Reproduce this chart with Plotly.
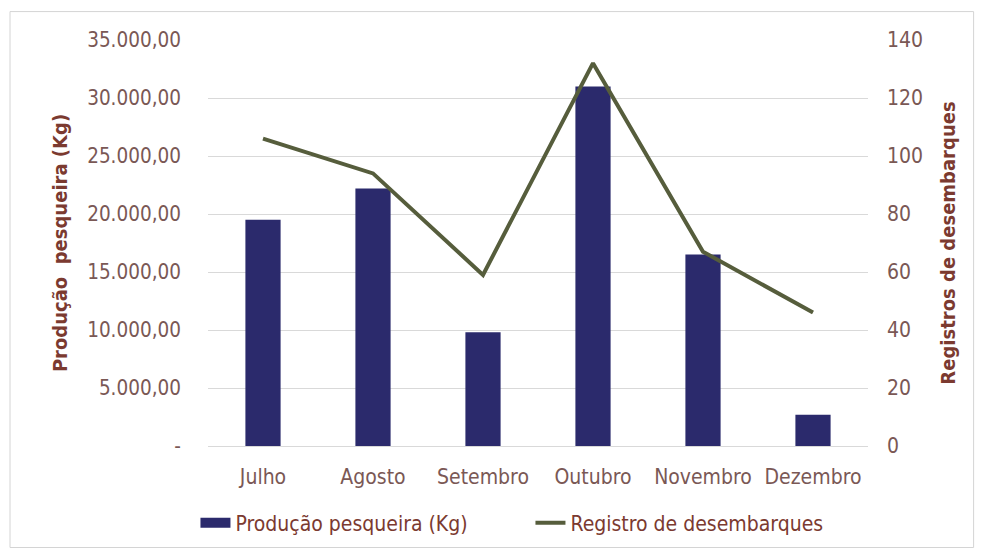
import plotly.graph_objects as go

# Monthly fishing data (July–December)
meses = ["Julho", "Agosto", "Setembro", "Outubro", "Novembro", "Dezembro"]
producao_kg = [19500, 22200, 9800, 31000, 16500, 2700]
desembarques = [106, 94, 59, 132, 67, 46]

# Left axis tick labels (pt-BR number format)
prod_ticks = [0, 5000, 10000, 15000, 20000, 25000, 30000, 35000]
prod_ticktext = ["-", "5.000,00", "10.000,00", "15.000,00", "20.000,00",
                 "25.000,00", "30.000,00", "35.000,00"]
reg_ticks = [0, 20, 40, 60, 80, 100, 120, 140]

FONT = "DejaVu Sans Condensed, Liberation Sans Narrow, Open Sans, sans-serif"
TICK_COLOR = "#7a5855"
TITLE_COLOR = "#7b3a30"
BAR_COLOR = "#2b2a6c"
LINE_COLOR = "#565d3c"
GRID = "#d9d9d9"

fig = go.Figure()
fig.add_trace(go.Bar(
    x=meses, y=producao_kg, name="Produção pesqueira (Kg)",
    marker=dict(color=BAR_COLOR, line=dict(width=0)),
    width=0.32, yaxis="y", showlegend=False,
))
# wide rectangular key for the bar series
fig.add_trace(go.Scatter(
    x=[None], y=[None], name="Produção pesqueira (Kg)",
    mode="lines", line=dict(color=BAR_COLOR, width=14),
    yaxis="y", hoverinfo="skip",
))
fig.add_trace(go.Scatter(
    x=meses, y=desembarques, name="Registro de desembarques",
    mode="lines", line=dict(color=LINE_COLOR, width=4),
    yaxis="y2",
))

fig.update_layout(
    width=981, height=560,
    margin=dict(l=208, r=113, t=40, b=114),
    paper_bgcolor="white", plot_bgcolor="white",
    font=dict(family=FONT, size=20, color=TICK_COLOR),
    xaxis=dict(
        showgrid=False, showline=True, linecolor=GRID, linewidth=1,
        ticks="", tickfont=dict(size=21, color=TICK_COLOR, family=FONT),
        ticklabelstandoff=12,
    ),
    yaxis=dict(
        range=[0, 35000], tickvals=prod_ticks, ticktext=prod_ticktext,
        showgrid=True, gridcolor=GRID, gridwidth=1, zeroline=False,
        ticks="", tickfont=dict(size=20.5, color=TICK_COLOR, family=FONT),
        ticklabelstandoff=26,
        title=dict(text="<b>Produção  pesqueira (Kg)</b>", standoff=14,
                   font=dict(size=20, color=TITLE_COLOR, family=FONT)),
    ),
    yaxis2=dict(
        range=[0, 140], tickvals=reg_ticks, overlaying="y", side="right",
        showgrid=False, zeroline=False, ticks="",
        tickfont=dict(size=21, color=TICK_COLOR, family=FONT),
        ticklabelstandoff=18,
        title=dict(text="<b>Registros de desembarques</b>", standoff=18,
                   font=dict(size=20, color=TITLE_COLOR, family=FONT)),
    ),
    legend=dict(
        orientation="h", x=-0.019, xanchor="left", y=-0.19, yanchor="middle",
        font=dict(size=21, color=TITLE_COLOR, family=FONT),
        itemwidth=30, traceorder="normal",
        entrywidth=290, entrywidthmode="pixels",
    ),
    shapes=[dict(
        type="rect", xref="paper", yref="paper",
        x0=-0.3, x1=1.16, y0=-0.25, y1=1.07,
        line=dict(color="#d4d4d4", width=1), fillcolor="rgba(0,0,0,0)",
        layer="below",
    )],
)

fig.write_html("out.html")
